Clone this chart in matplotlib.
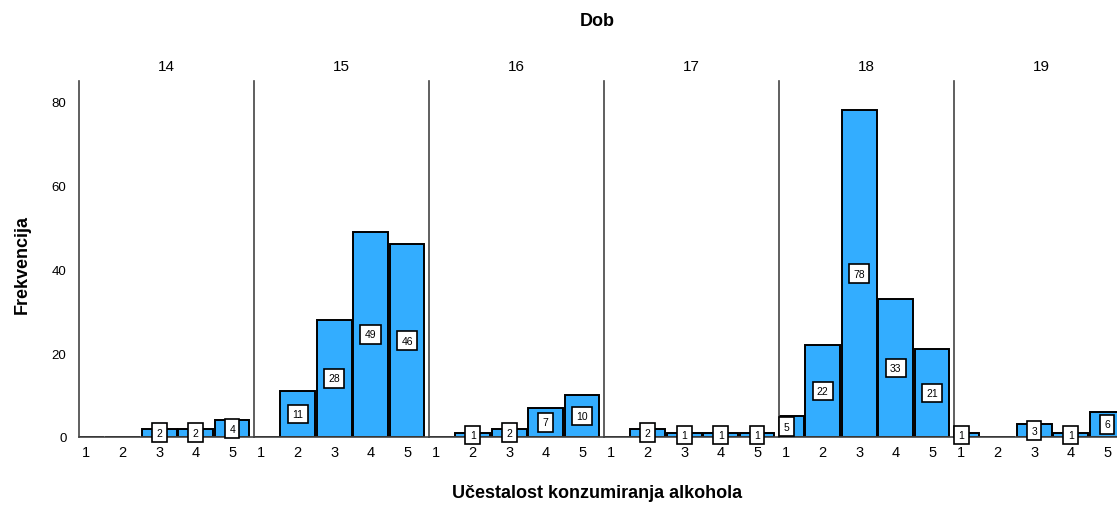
import matplotlib.pyplot as plt
import numpy as np

plt.rcParams['font.family'] = ['Liberation Sans', 'DejaVu Sans']

# age groups (panels) and frequency categories
ages = ['14', '15', '16', '17', '18', '19']
categories = [1, 2, 3, 4, 5]
counts = {
    '14': [0, 0, 2, 2, 4],
    '15': [0, 11, 28, 49, 46],
    '16': [0, 1, 2, 7, 10],
    '17': [0, 2, 1, 1, 1],
    '18': [5, 22, 78, 33, 21],
    '19': [1, 0, 3, 1, 6],
}

W, H = 1117, 506
fig = plt.figure(figsize=(W / 100, H / 100), dpi=100)

bar_color = '#33adff'
panel_w = 175
left0 = 79
y_bottom = 438
y_top = 82

for i, age in enumerate(ages):
    x0 = left0 + i * panel_w
    ax = fig.add_axes([x0 / W, (H - y_bottom) / H, panel_w / W, (y_bottom - y_top) / H])
    vals = counts[age]
    ax.bar(categories, vals, width=0.95, color=bar_color, edgecolor='black', linewidth=1.4, zorder=2)
    for c, v in zip(categories, vals):
        if v > 0:
            ax.text(c, v / 2, str(v), ha='center', va='center', fontsize=7.5, zorder=4,
                    bbox=dict(boxstyle='square,pad=0.42', fc='white', ec='black', lw=1.2))
    ax.set_xlim(0.8, 5.6)
    ax.set_ylim(0, 85)
    for s in ['top', 'right']:
        ax.spines[s].set_visible(False)
    ax.spines['left'].set_color('#444444')
    ax.spines['bottom'].set_color('#444444')
    ax.spines['left'].set_linewidth(1.2)
    ax.spines['bottom'].set_linewidth(1.2)
    ax.set_xticks(categories)
    ax.set_xticklabels([str(c) for c in categories], fontsize=10.5)
    ax.tick_params(axis='x', length=0, pad=6)
    ax.set_title(age, fontsize=11, pad=8)
    if i == 0:
        ax.set_yticks([0, 20, 40, 60, 80])
        ax.tick_params(axis='y', length=0, labelsize=9.5, pad=9)
    else:
        ax.set_yticks([])
    ax.patch.set_alpha(0)

fig.text(597 / W, 1 - 22 / H, 'Dob', ha='center', va='center', fontsize=13, fontweight='bold')
fig.text(22 / W, 1 - 265 / H, 'Frekvencija', ha='center', va='center', rotation=90,
         fontsize=13, fontweight='bold')
fig.text(597 / W, 1 - 494 / H, 'Učestalost konzumiranja alkohola', ha='center', va='center',
         fontsize=13, fontweight='bold')

fig.savefig('out.png', dpi=100)
